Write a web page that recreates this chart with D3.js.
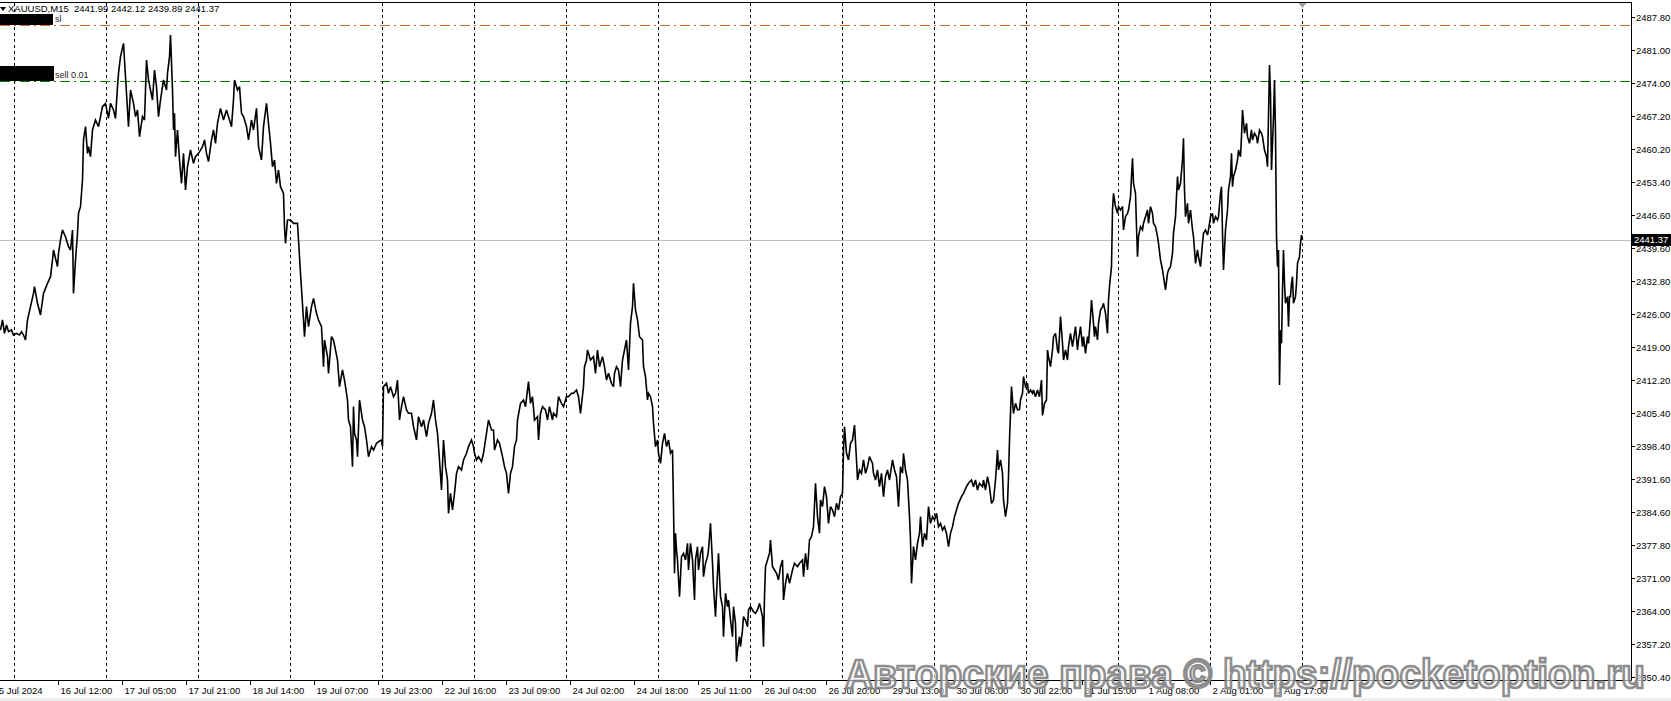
<!DOCTYPE html>
<html><head><meta charset="utf-8">
<script src="https://cdn.jsdelivr.net/npm/d3@7"></script>
<style>
html,body{margin:0;padding:0;background:#fff;overflow:hidden}
svg{display:block}
text{font-family:"Liberation Sans",Arial,sans-serif}
</style></head>
<body>
<script>
// ---------------- data ----------------
const symbolLabel = "XAUUSD,M15";
const headerQuote = [2441.99, 2442.12, 2439.89, 2441.37]; // O H L C of last bar
const currentPrice = 2441.37;
const slPrice = 2486.2;
const sellPrice = 2474.4;
const orderLabels = ["sl", "sell 0.01"];

const yTickLabels = ["2487.80","2481.00","2474.00","2467.20","2460.20","2453.40","2446.60","2439.60","2432.80","2426.00","2419.00","2412.20","2405.40","2398.40","2391.60","2384.60","2377.80","2371.00","2364.00","2357.20","2350.40"];

const xTickLabels = ["15 Jul 2024","16 Jul 12:00","17 Jul 05:00","17 Jul 21:00","18 Jul 14:00","19 Jul 07:00","19 Jul 23:00","22 Jul 16:00","23 Jul 09:00","24 Jul 02:00","24 Jul 18:00","25 Jul 11:00","26 Jul 04:00","26 Jul 20:00","29 Jul 13:00","30 Jul 06:00","30 Jul 22:00","31 Jul 15:00","1 Aug 08:00","2 Aug 01:00","2 Aug 17:00"];
// bar number (M15 bars counted from first visible bar) of each time label
const xTickBars = [-9,58,122,186,250,314,378,442,506,570,634,698,762,826,890,954,1018,1082,1146,1210,1274];
// first bar of each trading day (day separators)
const daySeparatorBars = [14,106,198,290,382,474,566,658,750,842,934,1026,1118,1210,1302];

// [bar number, close price]
const closeSeries = [
[0,2422.59],[2,2424.68],[4,2421.90],[6,2423.64],[8,2422.24],[11,2422.59],[13,2421.55],[16,2421.90],[19,2421.55],[21,2422.24],[23,2421.55],[25,2420.51],[27,2424.68],[30,2427.45],[33,2430.23],[34,2431.62],[37,2428.15],[40,2425.72],[43,2430.23],[47,2432.31],[50,2433.70],[52,2437.18],[53,2439.26],[57,2435.79],[58,2438.56],[60,2441.34],[62,2443.42],[65,2442.03],[68,2439.95],[70,2439.26],[72,2443.42],[73,2430.23],[75,2437.18],[77,2442.73],[78,2446.90],[80,2448.29],[82,2453.84],[83,2462.18],[85,2464.95],[87,2459.40],[88,2460.79],[90,2458.70],[92,2464.26],[95,2466.34],[98,2464.95],[102,2469.12],[105,2469.81],[108,2466.69],[110,2469.81],[113,2468.43],[115,2466.69],[117,2473.29],[118,2476.06],[120,2479.54],[123,2482.31],[124,2478.84],[126,2471.90],[128,2464.95],[130,2472.59],[133,2469.81],[135,2467.04],[137,2468.43],[139,2462.87],[142,2467.04],[144,2466.34],[146,2478.84],[148,2474.68],[150,2472.59],[152,2470.51],[154,2476.76],[156,2473.29],[158,2467.04],[160,2470.51],[163,2474.68],[166,2472.59],[167,2476.06],[169,2479.54],[170,2484.05],[172,2472.59],[173,2464.26],[174,2467.73],[175,2458.70],[177,2464.26],[179,2458.01],[181,2453.15],[183,2459.40],[185,2451.76],[187,2456.62],[190,2460.09],[193,2457.31],[195,2458.70],[198,2459.40],[202,2460.79],[204,2462.18],[206,2459.40],[208,2457.66],[211,2462.18],[213,2464.26],[215,2461.48],[217,2465.65],[220,2468.77],[223,2466.34],[226,2468.43],[228,2467.04],[231,2464.95],[233,2470.51],[234,2474.68],[237,2472.59],[239,2473.29],[241,2467.73],[243,2467.04],[246,2464.95],[248,2462.18],[251,2466.34],[253,2464.26],[256,2468.77],[258,2460.79],[261,2458.01],[263,2464.95],[266,2469.81],[268,2465.65],[270,2461.48],[272,2456.62],[274,2458.01],[276,2453.15],[278,2455.93],[280,2452.45],[283,2451.06],[284,2444.12],[285,2440.65],[287,2445.51],[290,2445.51],[293,2444.81],[297,2444.81],[298,2441.34],
[300,2434.40],[303,2424.68],[304,2421.20],[306,2427.45],[308,2423.29],[311,2427.45],[313,2429.19],[316,2426.06],[318,2424.68],[321,2423.29],[323,2414.95],[324,2420.51],[327,2417.04],[328,2413.56],[331,2421.20],[333,2420.51],[335,2418.42],[337,2416.34],[339,2410.79],[342,2414.26],[344,2412.17],[347,2408.01],[348,2403.84],[350,2402.45],[352,2394.12],[353,2406.62],[354,2401.07],[356,2399.68],[357,2396.20],[359,2408.01],[362,2403.84],[364,2402.45],[366,2399.68],[368,2396.20],[371,2398.29],[373,2397.59],[376,2398.98],[378,2399.33],[381,2399.68],[382,2398.29],[383,2410.79],[386,2411.48],[388,2409.40],[390,2410.79],[393,2408.70],[395,2409.40],[397,2412.17],[399,2403.84],[401,2406.62],[403,2408.70],[406,2405.93],[408,2405.23],[411,2405.23],[413,2402.45],[416,2399.68],[418,2404.54],[421,2402.45],[423,2403.84],[426,2400.37],[428,2403.15],[431,2405.23],[433,2408.01],[435,2403.84],[437,2401.07],[439,2395.51],[441,2389.26],[443,2399.68],[445,2394.12],[447,2391.34],[448,2384.40],[450,2388.56],[452,2385.09],[454,2388.56],[456,2392.73],[458,2394.12],[461,2393.42],[463,2395.51],[466,2396.90],[468,2398.29],[471,2399.68],[473,2398.29],[474,2396.90],[476,2395.51],[478,2396.20],[481,2395.16],[483,2396.90],[485,2399.68],[488,2403.84],[491,2401.76],[493,2401.76],[494,2397.59],[497,2399.68],[499,2398.98],[502,2396.20],[504,2394.12],[506,2392.73],[508,2388.56],[510,2392.73],[512,2394.12],[514,2398.29],[516,2399.68],[517,2403.84],[520,2407.31],[523,2408.01],[525,2406.62],[528,2411.83],[530,2407.31],[532,2408.70],[534,2403.84],[537,2404.54],[538,2399.68],[540,2405.23],[542,2406.62],[545,2405.93],[547,2403.84],[549,2406.62],[552,2403.84],[553,2405.23],[556,2404.54],[558,2408.70],[561,2407.31],[563,2406.62],[566,2408.70],[568,2408.70],[571,2409.40],[573,2409.40],[576,2410.09],[578,2408.70],[580,2405.23],[583,2410.79],[584,2414.95],[586,2416.34],[587,2418.42],[590,2416.34],[593,2417.04],[595,2413.56],[597,2418.42],[599,2414.95],[602,2417.04],[604,2414.95],[606,2412.17],[608,2413.56],[611,2411.48],[613,2410.79],[614,2413.56],[616,2414.95],[618,2414.26],[620,2410.79],[622,2416.34],[624,2418.42],[626,2420.51],[628,2414.26],[630,2423.98],[632,2427.45],[633,2432.31],[635,2426.76],[637,2424.68],[639,2421.20],
[642,2420.51],[643,2414.95],[645,2412.87],[647,2408.01],[648,2409.40],[650,2408.70],[652,2406.62],[653,2403.15],[655,2398.29],[657,2399.68],[658,2396.90],[660,2394.81],[662,2398.98],[664,2401.07],[666,2398.29],[668,2399.68],[670,2396.90],[672,2397.59],[673,2385.79],[674,2371.90],[675,2380.23],[676,2376.76],[677,2374.68],[679,2367.03],[681,2375.37],[683,2376.06],[685,2374.68],[687,2378.15],[688,2372.59],[690,2378.15],[692,2374.68],[694,2366.34],[695,2374.68],[697,2377.45],[698,2372.59],[700,2376.06],[702,2377.45],[703,2371.20],[705,2373.98],[707,2375.37],[708,2376.76],[710,2382.31],[712,2373.98],[713,2369.12],[715,2362.87],[717,2371.90],[718,2376.06],[720,2367.03],[722,2364.95],[723,2358.70],[725,2367.73],[727,2364.95],[728,2366.34],[730,2362.17],[732,2358.70],[733,2364.95],[735,2361.48],[736,2353.49],[737,2355.92],[739,2358.70],[740,2356.62],[742,2360.09],[743,2362.87],[745,2362.17],[747,2360.78],[748,2364.26],[750,2364.95],[753,2363.91],[755,2363.56],[757,2364.26],[759,2365.65],[762,2362.87],[763,2356.62],[764,2367.03],[765,2373.28],[767,2374.68],[769,2376.06],[770,2378.84],[772,2373.28],[774,2372.59],[776,2371.90],[778,2370.51],[780,2373.28],[782,2374.68],[783,2366.34],[785,2369.81],[787,2371.90],[789,2369.81],[792,2372.59],[794,2373.98],[797,2373.28],[799,2373.98],[802,2374.68],[803,2371.20],[805,2376.06],[807,2372.59],[809,2378.84],[811,2379.53],[813,2381.62],[815,2390.65],[817,2383.70],[819,2380.23],[820,2387.17],[822,2385.79],[824,2389.95],[826,2387.87],[828,2382.31],[830,2385.79],[832,2385.09],[834,2383.70],[836,2386.48],[838,2385.09],[840,2387.87],[842,2388.56],[843,2397.59],[844,2402.45],[846,2396.90],[848,2395.51],[850,2398.98],[852,2399.68],[854,2402.80],[856,2395.51],[857,2391.34],[859,2393.42],[861,2392.73],[863,2395.51],[865,2392.73],[867,2394.12],[869,2396.20],[872,2394.81],[873,2392.73],[875,2391.34],[877,2393.42],[879,2389.95],[881,2392.73],[883,2387.87],[885,2392.03],[887,2393.42],[889,2391.34],[892,2395.51],[894,2393.42],[896,2392.03],[898,2385.79],[900,2394.12],[902,2392.73],[903,2396.90],[905,2393.42],[907,2391.34],[909,2383.70],[910,2378.84],[911,2369.81],[913,2377.45],[915,2374.68],[917,2378.15],[919,2380.23],[920,2383.70],[922,2377.45],[924,2380.23],[926,2378.84],[928,2385.79],[930,2382.31],[932,2383.70],[934,2383.01],[936,2384.40],[938,2381.62],[940,2382.31],[942,2380.92],[944,2381.62],[946,2380.23],[948,2377.45],[950,2380.23],[952,2381.62],[954,2383.70],[956,2385.09],[958,2386.48],[961,2387.87],[963,2388.56],[966,2389.95],[968,2390.65],[971,2391.34],[973,2389.95],[975,2391.34],[977,2389.26],[979,2390.65],[982,2389.95],[983,2391.34],[985,2389.26],[987,2392.03],[989,2389.95],[991,2386.48],[993,2387.17],[995,2391.34],[997,2397.59],[998,2393.42],[1000,2395.51],[1002,2392.73],[1003,2387.17],[1005,2383.70],[1007,2386.48],[1008,2392.03],[1009,2399.68],[1011,2410.79],
[1013,2405.23],[1015,2407.31],[1017,2405.93],[1019,2406.00],[1020,2408.01],[1022,2409.40],[1023,2412.87],[1025,2410.79],[1027,2411.48],[1028,2409.40],[1030,2410.09],[1032,2409.40],[1033,2410.09],[1035,2408.70],[1037,2410.09],[1039,2408.70],[1041,2412.17],[1042,2404.80],[1044,2407.31],[1046,2408.01],[1047,2418.42],[1048,2417.04],[1050,2414.95],[1052,2418.42],[1053,2421.20],[1055,2421.90],[1057,2418.42],[1058,2417.73],[1060,2425.37],[1062,2419.81],[1063,2416.34],[1065,2418.42],[1067,2416.34],[1068,2419.12],[1070,2421.90],[1072,2419.12],[1073,2420.51],[1075,2423.29],[1077,2418.42],[1078,2420.51],[1080,2423.29],[1082,2419.12],[1083,2421.20],[1085,2417.73],[1087,2421.20],[1088,2419.81],[1090,2425.37],[1091,2428.84],[1093,2423.98],[1094,2421.20],[1095,2423.29],[1097,2420.51],[1098,2423.98],[1100,2426.76],[1102,2427.45],[1103,2428.15],[1105,2426.06],[1107,2421.90],[1108,2428.84],[1109,2431.62],[1111,2435.79],[1112,2447.59],[1113,2451.06],[1115,2448.29],[1117,2446.90],[1118,2448.29],[1120,2447.59],[1122,2448.29],[1123,2443.43],[1125,2446.20],[1127,2446.90],[1128,2447.59],[1130,2450.37],[1131,2454.54],[1132,2458.36],[1133,2453.15],[1135,2451.06],[1136,2444.12],[1137,2437.87],[1138,2442.04],[1140,2444.12],[1142,2443.43],[1143,2444.82],[1145,2446.20],[1147,2447.59],[1148,2444.82],[1150,2448.29],[1152,2446.90],[1153,2444.82],[1155,2444.12],[1157,2442.04],[1158,2440.65],[1160,2437.18],[1162,2435.09],[1163,2433.71],[1165,2430.93],[1167,2434.40],[1168,2435.09],[1170,2435.79],[1172,2438.56],[1173,2442.73],[1175,2446.20],[1177,2454.54],[1178,2451.76],[1180,2453.15],[1182,2458.01],[1183,2462.52],[1184,2451.76],[1185,2446.20],[1187,2448.98],[1188,2444.82],[1190,2447.59],[1192,2443.43],[1193,2442.04],[1195,2436.48],[1197,2439.26],[1198,2437.87],[1200,2435.79],[1202,2440.65],[1203,2442.73],[1205,2443.43],[1207,2442.38],[1208,2443.43],[1210,2446.20],[1212,2446.90],[1213,2444.82],[1215,2446.20],[1217,2445.51],[1218,2446.20],[1220,2451.06],[1221,2452.45],[1222,2442.73],[1223,2435.09],[1225,2443.43],[1227,2447.59],[1228,2451.76],[1230,2454.54],[1231,2459.40],[1232,2452.45],[1233,2454.54],[1235,2455.93],[1237,2458.01],[1238,2460.09],[1240,2458.70],[1241,2462.87],[1242,2468.43],[1244,2463.57],[1246,2465.65],[1247,2462.87],[1249,2461.48],[1251,2464.26],[1252,2462.18],[1254,2463.57],[1256,2462.87],[1257,2461.48],[1259,2464.26],[1261,2463.57],[1262,2462.87],[1264,2460.09],[1266,2458.70],[1267,2456.62],[1269,2477.80],[1270,2471.90],[1271,2455.93],[1273,2467.04],[1274,2474.68],[1275,2463.57],[1276,2442.04],[1277,2435.79],[1278,2439.26],[1279,2411.13],[1280,2422.59],[1281,2419.81],[1282,2430.93],[1283,2439.26],[1284,2432.31],[1285,2428.15],[1287,2429.54],[1288,2423.29],[1289,2429.54],[1290,2429.54],[1291,2432.31],[1292,2433.70],[1293,2428.15],[1295,2429.54],[1296,2432.31],[1297,2436.48],[1299,2437.87],[1300,2440.65],[1301,2442.38],[1302,2441.37]
];

const watermarkText = "Авторские права © https://pocketoption.ru";

// ---------------- drawing ----------------
const W = 1671, H = 701;
const plotL = 0, plotR = 1631, plotT = 3, plotB = 680;

const svg = d3.select("body").append("svg").attr("width", W).attr("height", H);
svg.append("rect").attr("width", W).attr("height", H).attr("fill", "#fff");

const yTickValues = yTickLabels.map(Number);
const y = d3.scaleLinear().domain([2350.4, 2487.8]).range([676.5, 17]);
const x = d3.scaleLinear().domain([0, plotR]).range([plotL, plotR]);
const px = v => Math.round(v) + 0.5;

svg.append("clipPath").attr("id", "plotclip")
  .append("rect").attr("x", plotL).attr("y", plotT).attr("width", plotR - plotL).attr("height", plotB - plotT);

const plot = svg.append("g").attr("clip-path", "url(#plotclip)");

// day separators
plot.selectAll("line.sep").data(daySeparatorBars).join("line")
  .attr("x1", d => px(x(d))).attr("x2", d => px(x(d)))
  .attr("y1", plotT).attr("y2", plotB)
  .attr("stroke", "#000").attr("stroke-width", 1).attr("stroke-dasharray", "3,3");

// current price line
plot.append("line").attr("x1", plotL).attr("x2", plotR)
  .attr("y1", px(y(currentPrice))).attr("y2", px(y(currentPrice)))
  .attr("stroke", "#c0c0c0").attr("stroke-width", 1);

// order lines
plot.append("line").attr("x1", plotL).attr("x2", plotR)
  .attr("y1", px(y(slPrice))).attr("y2", px(y(slPrice)))
  .attr("stroke", "#d2691e").attr("stroke-width", 1).attr("stroke-dasharray", "10,4,2,4");
plot.append("line").attr("x1", plotL).attr("x2", plotR)
  .attr("y1", px(y(sellPrice))).attr("y2", px(y(sellPrice)))
  .attr("stroke", "#008000").attr("stroke-width", 1).attr("stroke-dasharray", "10,4,2,4");

// price line
const line = d3.line().x(d => x(d[0]) + 0.5).y(d => y(d[1]));
plot.append("path").datum(closeSeries).attr("d", line)
  .attr("fill", "none").attr("stroke", "#000").attr("stroke-width", 1.6).attr("stroke-linejoin", "miter").attr("stroke-miterlimit", 3);

// header
svg.append("path").attr("d", "M0,7 L6,7 L3,11 Z").attr("fill", "#000");
svg.append("text").attr("x", 8).attr("y", 12).attr("font-size", 9.5).attr("fill", "#000")
  .style("white-space", "pre")
  .text(symbolLabel + "  " + headerQuote.map(v => v.toFixed(2)).join(" "));

// order labels (redacted boxes + text)
const slY = Math.round(y(slPrice));
const sellY = Math.round(y(sellPrice));
svg.append("rect").attr("x", 0).attr("y", slY - 11).attr("width", 53).attr("height", 11).attr("fill", "#000");
svg.append("text").attr("x", 55).attr("y", slY - 3).attr("font-size", 9).attr("fill", "#222").text(orderLabels[0]);
svg.append("rect").attr("x", 0).attr("y", sellY - 15).attr("width", 54).attr("height", 15).attr("fill", "#000");
svg.append("text").attr("x", 55).attr("y", sellY - 3).attr("font-size", 9).attr("fill", "#222").text(orderLabels[1]);

// frame
svg.append("line").attr("x1", 0).attr("x2", plotR + 0.5).attr("y1", plotT - 0.5).attr("y2", plotT - 0.5).attr("stroke", "#000");
svg.append("line").attr("x1", plotR + 0.5).attr("x2", plotR + 0.5).attr("y1", plotT - 1).attr("y2", plotB + 0.5).attr("stroke", "#000");
svg.append("line").attr("x1", 0).attr("x2", plotR + 0.5).attr("y1", plotB + 0.5).attr("y2", plotB + 0.5).attr("stroke", "#000");

// shift marker
svg.append("path")
  .attr("d", `M${px(x(1302)) - 4},${plotT} L${px(x(1302)) + 4},${plotT} L${px(x(1302))},${plotT + 5} Z`)
  .attr("fill", "#a0a0a0");

// y axis
const yAxis = svg.append("g");
yTickValues.forEach((v, i) => {
  const yy = px(y(v));
  yAxis.append("line").attr("x1", plotR).attr("x2", plotR + 4).attr("y1", yy).attr("y2", yy).attr("stroke", "#000");
  yAxis.append("text").attr("x", plotR + 5).attr("y", yy).attr("dy", "0.35em")
    .attr("font-size", 9.5).attr("fill", "#000").text(yTickLabels[i]);
});

// current price tag
const cy = Math.round(y(currentPrice));
svg.append("rect").attr("x", plotR + 1).attr("y", cy - 6).attr("width", W - plotR - 1).attr("height", 12).attr("fill", "#000");
svg.append("text").attr("x", plotR + 3).attr("y", cy).attr("dy", "0.35em").attr("font-size", 9.5)
  .attr("fill", "#fff").text(currentPrice.toFixed(2));

// x axis
const xAxis = svg.append("g");
xTickBars.forEach((b, i) => {
  const xx = px(x(b));
  xAxis.append("line").attr("x1", xx).attr("x2", xx).attr("y1", plotB).attr("y2", plotB + 5).attr("stroke", "#000");
  xAxis.append("text").attr("x", xx + 2).attr("y", plotB + 14).attr("font-size", 9.5).attr("fill", "#000").text(xTickLabels[i]);
});

// bottom strip
svg.append("rect").attr("x", 0).attr("y", 698).attr("width", W).attr("height", 3).attr("fill", "#f0f0f0");

// watermark
svg.append("text").attr("x", 845).attr("y", 688)
  .attr("textLength", 800).attr("lengthAdjust", "spacingAndGlyphs")
  .attr("font-size", 41).attr("font-weight", "bold")
  .attr("fill", "#f4f4f4").attr("fill-opacity", 0.6)
  .attr("stroke", "#7f7f7f").attr("stroke-width", 2.6).attr("stroke-opacity", 0.9)
  .text(watermarkText);
</script>
</body></html>
